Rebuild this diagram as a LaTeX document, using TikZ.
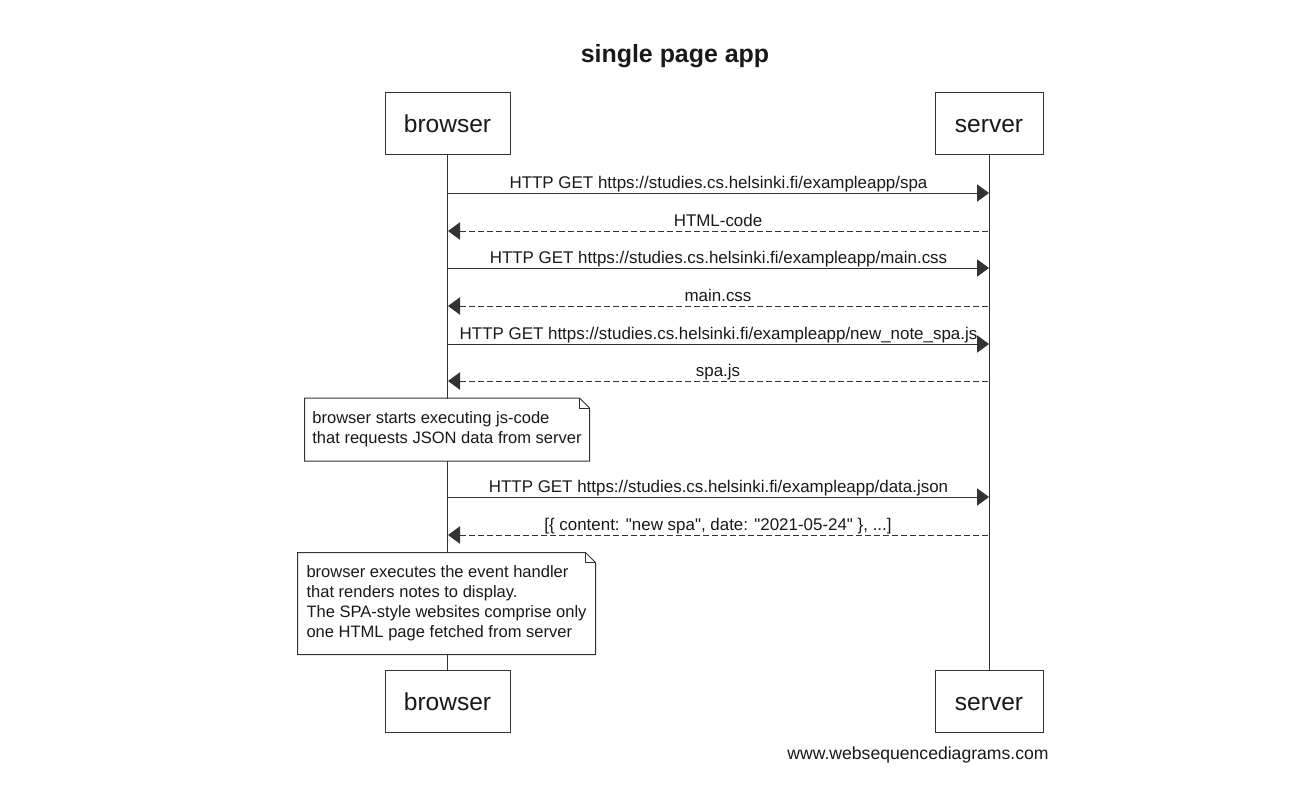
\documentclass[tikz,border=0pt]{standalone}
\usepackage{fontspec}
\setmainfont{Liberation Sans}
\usetikzlibrary{arrows.meta}

\begin{document}
\begin{tikzpicture}
  [x=0.75pt,y=-0.75pt,line width=0.75pt,draw=black!80,text=black!90,
   actor/.style={draw,fill=white,minimum height=46.5pt,text height=13.6pt,text depth=0pt,
     font=\fontsize{18.4}{22}\selectfont},
   msg/.style={-{Triangle[length=9pt,width=13pt]}},
   reply/.style={msg,dash pattern=on 4.5pt off 2.25pt},
   lbl/.style={above,inner sep=0.4pt,text height=9.2pt,text depth=2.7pt,
     font=\fontsize{12.7}{15}\selectfont},
   note/.style={fill=white,align=left,font=\fontsize{12.4}{15}\selectfont}]
  \useasboundingbox (0,0) rectangle (1311,808);

  \node[font=\bfseries\fontsize{18.7}{22}\selectfont] (title) at (675,56) {single page app};

  \node[actor,minimum width=93.75pt] (b1) at (447.5,123.5) {browser};
  \node[actor,minimum width=81pt] (s1) at (989,123.5) {server};
  \node[actor,minimum width=93.75pt] (b2) at (447.5,701.5) {browser};
  \node[actor,minimum width=81pt] (s2) at (989,701.5) {server};

  \draw (b1) -- (b2);
  \draw (s1) -- (s2);

  \foreach \n/\y/\txt in {1/193/{HTTP GET https://studies.cs.helsinki.fi/exampleapp/spa},
                          3/268/{HTTP GET https://studies.cs.helsinki.fi/exampleapp/main.css},
                          5/344/{HTTP GET https://studies.cs.helsinki.fi/exampleapp/new\_note\_spa.js},
                          7/497/{HTTP GET https://studies.cs.helsinki.fi/exampleapp/data.json}}
  {
    \coordinate (bl\n) at (448,\y);
    \coordinate (sl\n) at (989,\y);
    \draw[msg] (bl\n) -- node[lbl] {\txt} (sl\n);
  }

  \foreach \n/\y/\txt in {2/231/{HTML-code},
                          4/306/{main.css},
                          6/381/{spa.js},
                          8/535/{[\{ content: \textquotedbl new spa\textquotedbl, date: \textquotedbl 2021-05-24\textquotedbl\ \}, ...]}}
  {
    \coordinate (bl\n) at (448,\y);
    \coordinate (sl\n) at (988,\y);
    \draw[reply] (sl\n) -- node[lbl] {\txt} (bl\n);
  }

  \node[note,minimum width=213pt,minimum height=46.5pt] (n1) at (447,429.5)
    {browser starts executing js-code\\that requests JSON data from server};
  \node[note,minimum width=222.75pt,minimum height=75.75pt] (n2) at (446.5,603.5)
    {browser executes the event handler\\that renders notes to display.\\The SPA-style websites comprise only\\one HTML page fetched from server};

  \foreach \n in {n1,n2}
  {
    \draw (\n.south west) -- (\n.north west) -- ([xshift=-7.5pt]\n.north east)
      -- ([yshift=-7.5pt]\n.north east) -- (\n.south east) -- cycle;
    \draw ([xshift=-7.5pt]\n.north east) |- ([yshift=-7.5pt]\n.north east);
  }

  \node[font=\fontsize{13.2}{16}\selectfont] (credit) at (918,755) {www.websequencediagrams.com};
\end{tikzpicture}
\end{document}
